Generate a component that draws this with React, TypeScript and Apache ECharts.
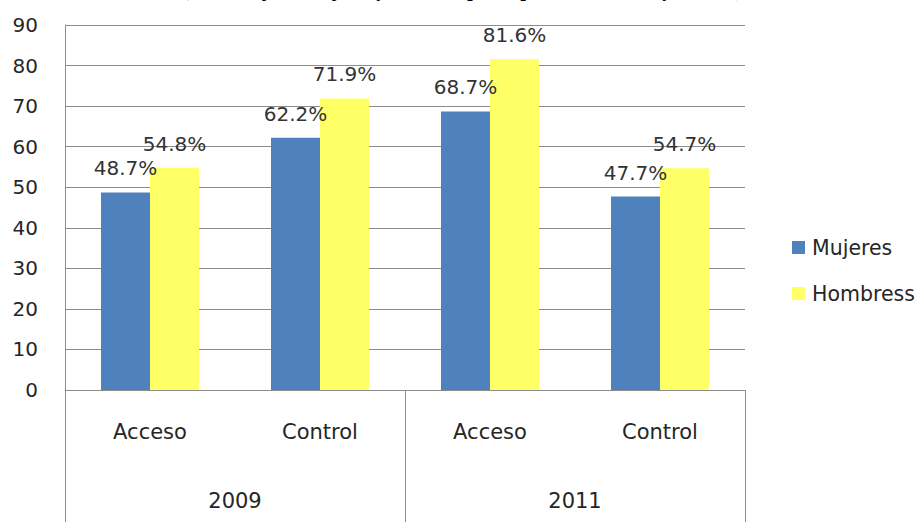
import React, { useEffect, useRef } from "react";
import * as echarts from "echarts";

const subCategories = ["Acceso", "Control", "Acceso", "Control"];
const years = ["2009", "2011"];
const mujeres = [48.7, 62.2, 68.7, 47.7];
const hombres = [54.8, 71.9, 81.6, 54.7];
const seriesNames = ["Mujeres", "Hombress"];
const titleText = "(Porcentaje de mujeres y hombres participantes en acceso y control)";

export default function App() {
  const ref = useRef<HTMLDivElement>(null);
  useEffect(() => {
    if (!ref.current) return;
    const chart = echarts.init(ref.current, undefined, { renderer: "svg" });
    const font = "DejaVu Sans";
    const textColor = "#262626";
    const lineColor = "#8c8c8c";
    const labelStyle = {
      show: true,
      position: "top",
      distance: 14,
      formatter: "{c}%",
      fontFamily: font,
      fontSize: 20,
      color: "#333",
    };
    chart.setOption({
      animation: false,
      backgroundColor: "#ffffff",
      graphic: [
        {
          type: "text",
          x: 464,
          y: -1,
          style: {
            text: titleText,
            font: "italic bold 20px 'Liberation Serif'",
            fill: "#000",
            align: "center",
            verticalAlign: "bottom",
          },
        },
      ],
      legend: {
        orient: "vertical",
        left: 787,
        top: 232,
        itemWidth: 13,
        itemHeight: 13,
        itemGap: 25,
        icon: "rect",
        textStyle: { fontFamily: font, fontSize: 20.5, color: textColor, lineHeight: 21, padding: [0, 0, 0, 2] },
        data: seriesNames,
      },
      grid: { left: 65, right: 173, top: 25, bottom: 132, containLabel: false },
      xAxis: [
        {
          type: "category",
          data: subCategories,
          position: "bottom",
          axisLine: { show: true, lineStyle: { color: lineColor, width: 1 } },
          axisTick: { show: false },
          axisLabel: { fontFamily: font, fontSize: 21, color: textColor, margin: 31, interval: 0 },
        },
        {
          type: "category",
          data: years,
          position: "bottom",
          axisLine: { show: false },
          axisTick: { show: true, length: 140, lineStyle: { color: lineColor, width: 1 } },
          axisLabel: { fontFamily: font, fontSize: 21, color: textColor, margin: 100, interval: 0 },
        },
      ],
      yAxis: {
        type: "value",
        min: 0,
        max: 90,
        interval: 10,
        axisLine: { show: true, lineStyle: { color: lineColor, width: 1 } },
        axisTick: { show: false },
        axisLabel: { fontFamily: font, fontSize: 20, color: textColor, margin: 27 },
        splitLine: { show: true, lineStyle: { color: lineColor, width: 1 } },
      },
      series: [
        {
          name: seriesNames[0],
          type: "bar",
          data: mujeres,
          barWidth: 49,
          barGap: "0%",
          itemStyle: { color: "#4F81BD" },
          label: labelStyle,
        },
        {
          name: seriesNames[1],
          type: "bar",
          data: hombres,
          barWidth: 49,
          barGap: "0%",
          itemStyle: { color: "#FFFF66" },
          label: labelStyle,
        },
      ],
    });
    return () => chart.dispose();
  }, []);
  return (
    <div
      ref={ref}
      style={{ position: "fixed", left: 0, top: 0, width: 918, height: 522, background: "#fff" }}
    />
  );
}
